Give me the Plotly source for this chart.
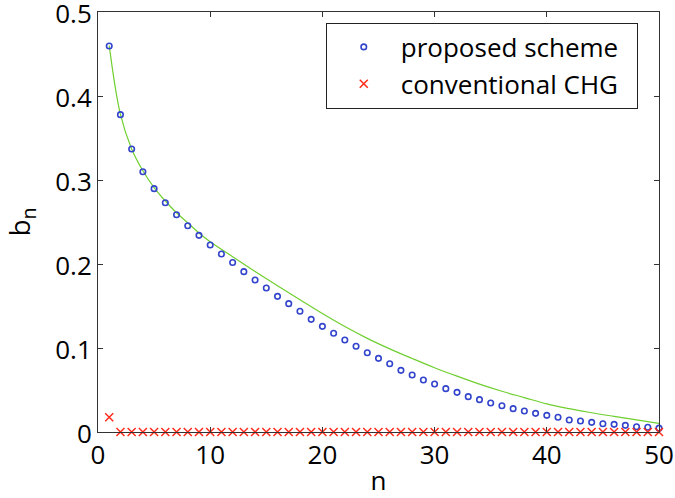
import plotly.graph_objects as go

n = list(range(1, 51))

proposed = [0.4595, 0.3778, 0.3369, 0.3099, 0.2897, 0.2730, 0.2587, 0.2456, 0.2341, 0.2226,
            0.2119, 0.2018, 0.1909, 0.1810, 0.1714, 0.1615, 0.1528, 0.1437, 0.1341, 0.1258,
            0.1175, 0.1095, 0.1020, 0.0944, 0.0877, 0.0813, 0.0734, 0.0679, 0.0619, 0.0571,
            0.0516, 0.0472, 0.0421, 0.0385, 0.0345, 0.0313, 0.0278, 0.0250, 0.0222, 0.0198,
            0.0175, 0.0143, 0.0131, 0.0115, 0.0099, 0.0091, 0.0079, 0.0063, 0.0056, 0.0046]

conventional = [0.0175] + [0.0] * 49

curve_n = [1, 2, 3, 4, 5, 6, 7, 8, 9, 10, 12, 14, 16, 18, 20, 22, 24, 26, 28, 30,
           32, 34, 36, 38, 40, 42, 44, 46, 48, 50]
curve_b = [0.460, 0.378, 0.337, 0.311, 0.291, 0.275, 0.261, 0.249, 0.237, 0.2265,
           0.2087, 0.1912, 0.1742, 0.1575, 0.1410, 0.1255, 0.1115, 0.0990, 0.0875, 0.0765,
           0.0665, 0.0570, 0.0485, 0.0410, 0.0335, 0.0278, 0.0229, 0.0186, 0.0144, 0.0103]

x_ticks = [0, 10, 20, 30, 40, 50]
y_ticks = [0, 0.1, 0.2, 0.3, 0.4, 0.5]
y_tick_text = ["0", "0.1", "0.2", "0.3", "0.4", "0.5"]

FONT = "Open Sans"

fig = go.Figure()
fig.add_trace(go.Scatter(x=curve_n, y=curve_b, mode="lines",
                         line=dict(color="#6fcf2f", width=1.2, shape="spline", smoothing=1.0),
                         showlegend=False, hoverinfo="skip"))
fig.add_trace(go.Scatter(x=n, y=proposed, mode="markers", name="proposed scheme",
                         legendgroup="a",
                         marker=dict(symbol="circle-open", size=5.5, color="#3344cc",
                                     line=dict(width=1.6, color="#3344cc")),
                         cliponaxis=False))
fig.add_trace(go.Scatter(x=n, y=conventional, mode="markers",
                         name="conventional CHG\u00a0\u00a0",
                         legendgroup="b",
                         marker=dict(symbol="x-thin-open", size=8, color="#ff2a1a",
                                     line=dict(width=1.5, color="#ff2a1a")),
                         cliponaxis=False))

axis_common = dict(showline=True, linecolor="#333333", linewidth=1, mirror="ticks",
                   ticks="inside", ticklen=5, tickcolor="#333333", showgrid=False,
                   zeroline=False, ticklabeloverflow="allow",
                   tickfont=dict(family=FONT, size=26, color="black"))

fig.update_xaxes(range=[0, 50], tickvals=x_ticks,
                 title=dict(text="n", font=dict(family=FONT, size=26, color="black"), standoff=4),
                 **axis_common)
fig.update_yaxes(range=[0, 0.5], tickvals=y_ticks, ticktext=y_tick_text,
                 ticklabelshift=2,
                 title=dict(text="b<sub>n</sub>", font=dict(family=FONT, size=28, color="black"),
                            standoff=20),
                 **axis_common)

fig.update_layout(
    width=675, height=498,
    margin=dict(l=98, r=16, t=12, b=66, autoexpand=False),
    plot_bgcolor="white", paper_bgcolor="white",
    font=dict(family=FONT, size=26, color="black"),
    legend=dict(x=0.406, y=0.975, xanchor="left", yanchor="top",
                bordercolor="#222222", borderwidth=1, bgcolor="white",
                font=dict(family=FONT, size=26, color="black"),
                tracegroupgap=0, itemwidth=64),
)

fig.write_html("out.html", config={"displayModeBar": False},
               post_script="document.body.style.margin='0px';")
